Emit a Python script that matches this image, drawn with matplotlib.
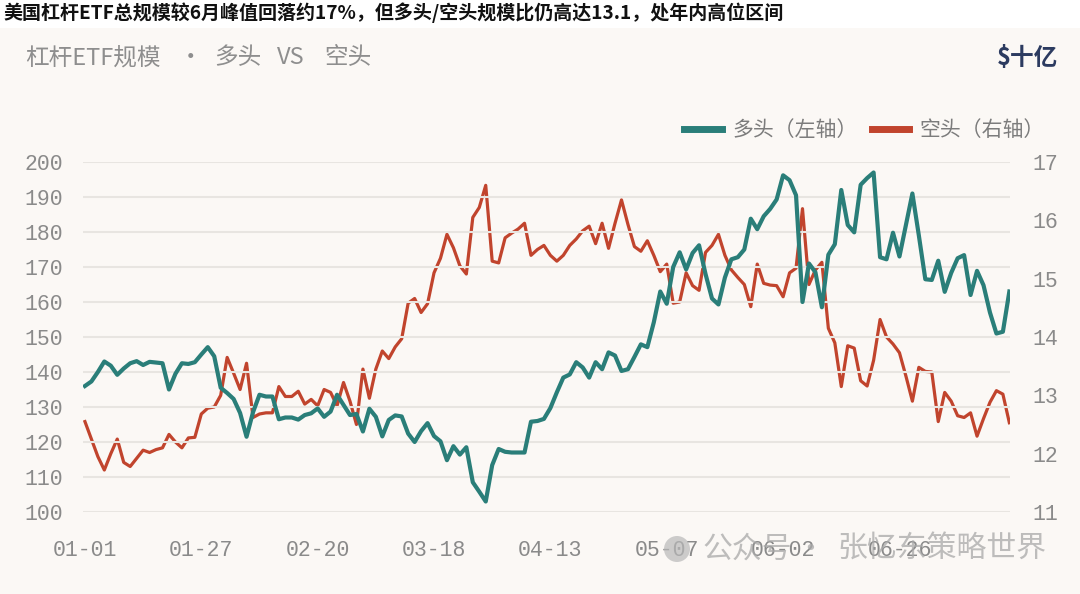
import numpy as np
import matplotlib
matplotlib.use("Agg")
import matplotlib.pyplot as plt
from matplotlib.lines import Line2D
from matplotlib.patches import Rectangle, Ellipse

CJK = ["Noto Sans CJK SC", "DejaVu Sans"]
MONO = "Liberation Mono"

# 横轴标签（每 18 个交易日一个）
date_labels = ["01-01", "01-27", "02-20", "03-18", "04-13", "05-07", "06-02", "06-26"]
label_step = 18

# 多头规模（左轴, $十亿）
long_vals = [
    136.0, 137.3, 140.0, 143.0, 141.8, 139.2, 141.0, 142.5, 143.1, 142.0,
    142.9, 142.7, 142.5, 135.0, 139.5, 142.5, 142.3, 142.8, 145.0, 147.1,
    144.5, 135.5, 134.0, 132.3, 128.3, 121.5, 128.5, 133.5, 133.0, 133.0,
    126.5, 127.0, 127.0, 126.4, 127.7, 128.2, 129.6, 127.2, 128.7, 133.5,
    130.6, 127.7, 128.0, 123.0, 129.5, 127.2, 121.6, 126.3, 127.6, 127.3,
    122.4, 120.0, 123.1, 125.4, 121.7, 120.2, 114.8, 118.8, 116.4, 118.5,
    108.5, 105.8, 103.0, 113.4, 118.0, 117.2, 117.0, 117.0, 117.0, 125.8,
    126.0, 126.6, 129.7, 134.2, 138.4, 139.3, 142.8, 141.3, 138.4, 142.8,
    140.8, 145.6, 144.7, 140.3, 140.8, 144.3, 147.9, 147.1, 154.2, 163.0,
    159.5, 170.0, 174.2, 169.3, 174.0, 176.2, 168.0, 161.0, 159.3, 167.0,
    172.2, 172.8, 175.0, 183.8, 180.8, 184.5, 186.6, 189.3, 196.2, 194.8,
    190.5, 160.0, 171.0, 168.5, 158.5, 173.5, 176.5, 192.0, 182.0, 179.9,
    193.5, 195.4, 197.0, 172.8, 172.2, 179.8, 173.0, 182.0, 191.0, 179.0,
    166.5, 166.3, 171.8, 162.9, 168.3, 172.5, 173.4, 162.0, 168.9, 164.8,
    157.0, 151.0, 151.5, 163.0,
]

# 空头规模（右轴, $十亿）
short_vals = [
    12.55, 12.25, 11.95, 11.72, 12.00, 12.25, 11.85, 11.78, 11.92, 12.06,
    12.02, 12.07, 12.10, 12.33, 12.20, 12.10, 12.27, 12.28, 12.68, 12.78,
    12.80, 13.00, 13.65, 13.38, 13.10, 13.55, 12.62, 12.68, 12.70, 12.70,
    13.15, 12.98, 12.98, 13.07, 12.85, 12.93, 12.82, 13.10, 13.05, 12.82,
    13.22, 12.90, 12.50, 13.45, 12.95, 13.45, 13.76, 13.63, 13.83, 13.97,
    14.58, 14.66, 14.42, 14.57, 15.10, 15.35, 15.76, 15.53, 15.22, 15.08,
    16.05, 16.22, 16.60, 15.30, 15.27, 15.70, 15.78, 15.85, 15.95, 15.40,
    15.50, 15.57, 15.40, 15.30, 15.40, 15.57, 15.68, 15.82, 15.90, 15.60,
    15.95, 15.52, 15.95, 16.35, 15.93, 15.55, 15.47, 15.65, 15.40, 15.12,
    15.25, 14.58, 14.60, 15.10, 14.88, 14.80, 15.45, 15.57, 15.76, 15.40,
    15.15, 15.02, 14.90, 14.52, 15.25, 14.92, 14.89, 14.88, 14.69, 15.10,
    15.18, 16.20, 14.90, 15.15, 15.28, 14.15, 13.90, 13.15, 13.85, 13.81,
    13.25, 13.16, 13.60, 14.30, 14.00, 13.88, 13.73, 13.33, 12.90, 13.48,
    13.41, 13.40, 12.55, 13.05, 12.90, 12.65, 12.62, 12.70, 12.30, 12.60,
    12.88, 13.08, 13.02, 12.53,
]

left_ticks = list(range(100, 201, 10))
right_ticks = list(range(11, 18))

TEAL = "#2A7E79"
RED = "#C1442D"
GREY = "#8A8A8A"

W, H = 1080, 594
fig = plt.figure(figsize=(W / 100, H / 100), dpi=100)
fig.patch.set_facecolor("white")
fig.patches.append(Rectangle((0, 0), 1, 1 - 28 / H, transform=fig.transFigure,
                             facecolor="#FBF8F5", edgecolor="none", zorder=-10))

# 顶部说明文字
fig.text(3 / W, 1 - 13 / H,
         "美国杠杆ETF总规模较6月峰值回落约17%，但多头/空头规模比仍高达13.1，处年内高位区间",
         family=CJK, fontsize=13.7, fontweight="bold", color="#111111", va="center", ha="left")

# 图内标题：各段分开放置以还原较宽的字距
sub_kw = dict(family=CJK, fontsize=17, color="#8E8E8E", va="center")
fig.text(25 / W, 1 - 58 / H, "杠杆ETF规模", ha="left", **sub_kw)
fig.text(190 / W, 1 - 58 / H, "·", ha="center", **sub_kw)
fig.text(214 / W, 1 - 58 / H, "多头", ha="left", **sub_kw)
fig.text(277 / W, 1 - 58 / H, "VS", ha="left", **sub_kw)
fig.text(324 / W, 1 - 58 / H, "空头", ha="left", **sub_kw)
fig.text(1058 / W, 1 - 58 / H, "$十亿",
         family=CJK, fontsize=17, fontweight="bold", color="#2C3B60", va="center", ha="right")

ax = fig.add_axes([83 / W, 1 - 512 / H, (1010 - 83) / W, (512 - 162) / H])
ax2 = ax.twinx()
ax.set_zorder(ax2.get_zorder() + 1)
ax.patch.set_visible(False)

x = np.arange(len(long_vals))
ax.plot(x, long_vals, color=TEAL, lw=3.0, solid_joinstyle="round", zorder=3)
ax2.plot(x, short_vals, color=RED, lw=2.3, solid_joinstyle="round", zorder=2)

ax.set_xlim(-0.3, len(long_vals) - 0.9)
ax.set_ylim(100, 200)
ax2.set_ylim(11, 17)
ax.set_yticks(left_ticks)
ax2.set_yticks(right_ticks)
ax.set_xticks(x[::label_step])
ax.set_xticklabels(date_labels)

ax.yaxis.grid(True, color="#E8E5E1", lw=1.5)
ax.set_axisbelow(True)
for a in (ax, ax2):
    for s in a.spines.values():
        s.set_visible(False)
ax.tick_params(axis="y", length=0, pad=14, labelsize=15.5, labelcolor=GREY)
ax.tick_params(axis="x", length=0, pad=20, labelsize=15.5, labelcolor=GREY)
ax2.tick_params(axis="y", length=0, pad=16, labelsize=15.5, labelcolor=GREY)
for lab in ax.get_xticklabels() + ax.get_yticklabels() + ax2.get_yticklabels():
    lab.set_family(MONO)

handles = [Line2D([], [], color=TEAL, lw=5), Line2D([], [], color=RED, lw=5)]
leg = ax.legend(handles, ["多头（左轴）", "空头（右轴）"], loc="center right",
                bbox_to_anchor=(1.058, 1.091), ncol=2, frameon=False,
                handlelength=1.8, handletextpad=0.5, columnspacing=0.7,
                prop={"family": CJK, "size": 15})
for t in leg.get_texts():
    t.set_color("#7C7C7C")

# 公众号水印
wm_kw = dict(family=CJK, fontsize=21.5, color="#A8A8A8", alpha=0.75, va="center", zorder=20)
fig.add_artist(Ellipse((677 / W, 1 - 549 / H), 26 / W, 26 / H, transform=fig.transFigure,
                       facecolor="#B8B8B8", edgecolor="none", alpha=0.7, zorder=20))
fig.text(702 / W, 1 - 549 / H, "公众号", ha="left", **wm_kw)
fig.text(810 / W, 1 - 549 / H, "·", ha="center", **wm_kw)
fig.text(1047 / W, 1 - 549 / H, "张忆东策略世界", ha="right", **wm_kw)

fig.savefig("out.png", dpi=100, facecolor=fig.get_facecolor())
